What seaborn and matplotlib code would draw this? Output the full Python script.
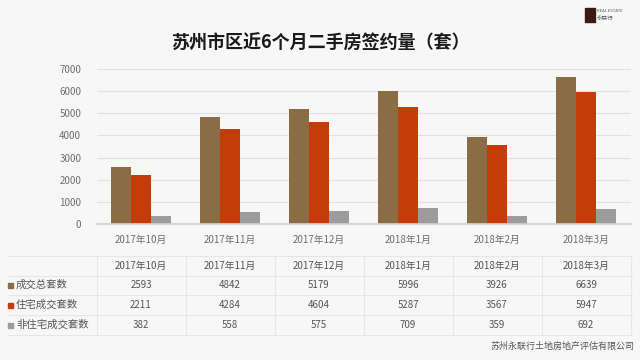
import pandas as pd
import seaborn as sns
import matplotlib.pyplot as plt
from matplotlib.transforms import blended_transform_factory
from matplotlib.patches import Rectangle

# Data
months = ['2017年10月', '2017年11月', '2017年12月', '2018年1月', '2018年2月', '2018年3月']
series = ['成交总套数', '住宅成交套数', '非住宅成交套数']
total = [2593, 4842, 5179, 5996, 3926, 6639]
residential = [2211, 4284, 4604, 5287, 3567, 5947]
non_residential = [382, 558, 575, 709, 359, 692]
colors = ['#8a6d45', '#c43c08', '#9c9c9c']

df = pd.DataFrame({
    'month': months * 3,
    'series': [series[0]] * 6 + [series[1]] * 6 + [series[2]] * 6,
    'value': total + residential + non_residential,
})

sns.set_theme(style='white')
plt.rcParams['font.family'] = ['Noto Sans CJK SC', 'DejaVu Sans']

fig = plt.figure(figsize=(6.4, 3.6), dpi=100)
fig.patch.set_facecolor('#f7f7f7')
ax = fig.add_axes([96.5 / 640, 1 - 224 / 360, 534 / 640, 155 / 360])
ax.set_facecolor('none')

sns.barplot(data=df, x='month', y='value', hue='series', order=months,
            hue_order=series, palette=colors, width=0.67, saturation=1,
            linewidth=0, ax=ax, legend=False)

ax.set_xlim(-0.5, 5.5)
ax.set_ylim(0, 7000)
ax.set_yticks(range(0, 7001, 1000))
ax.yaxis.grid(True, color='#e0e0e0', linewidth=0.8)
ax.set_axisbelow(True)
for s in ['top', 'right', 'left']:
    ax.spines[s].set_visible(False)
ax.spines['bottom'].set_color('#d0d0d0')
ax.tick_params(axis='both', length=0, labelsize=7, colors='#6e6e6e', pad=8)
ax.tick_params(axis='y', pad=11)
ax.set_xlabel('')
ax.set_ylabel('')

fig.text(0.5, 1 - 43 / 360, '苏州市区近6个月二手房签约量（套）', ha='center', va='center',
         fontsize=13, fontweight='bold', color='#1a1a1a')

# data table under the chart
tr = blended_transform_factory(ax.transData, fig.transFigure)
row_y = [266, 285, 305, 325]
line_y = [256, 276, 295, 315, 335]
for y in line_y:
    fig.add_artist(plt.Line2D([8 / 640, 632 / 640], [1 - y / 360] * 2,
                              color='#e6e6e6', linewidth=0.8))
for i in range(7):
    x = (97 + 89 * i) / 640
    fig.add_artist(plt.Line2D([x, x], [1 - 256 / 360, 1 - 335 / 360],
                              color='#e6e6e6', linewidth=0.8))
for i, m in enumerate(months):
    ax.text(i, 1 - row_y[0] / 360, m, transform=tr, ha='center', va='center',
            fontsize=7, color='#555555')
for r, vals in enumerate([total, residential, non_residential]):
    y = 1 - row_y[r + 1] / 360
    fig.add_artist(Rectangle((8 / 640, y - 2.5 / 360), 5 / 640, 5 / 360,
                             transform=fig.transFigure, color=colors[r]))
    fig.text(16 / 640, y, series[r], ha='left', va='center', fontsize=7.5,
             color='#555555')
    for i, v in enumerate(vals):
        ax.text(i, y, str(v), transform=tr, ha='center', va='center',
                fontsize=7, color='#555555')

fig.text(634 / 640, 1 - 346 / 360, '苏州永联行土地房地产评估有限公司', ha='right',
         va='center', fontsize=6.5, color='#555555')

# small logo at the top right
fig.add_artist(Rectangle((585 / 640, 1 - 22 / 360), 10 / 640, 14 / 360,
                         transform=fig.transFigure, color='#3a1a12'))
fig.text(597 / 640, 1 - 11 / 360, 'REAL ESTATE', fontsize=3, color='#555555',
         va='center')
fig.text(597 / 640, 1 - 19 / 360, '永联行', fontsize=4, color='#555555',
         va='center')

fig.savefig('out.png', dpi=100, facecolor=fig.get_facecolor())
